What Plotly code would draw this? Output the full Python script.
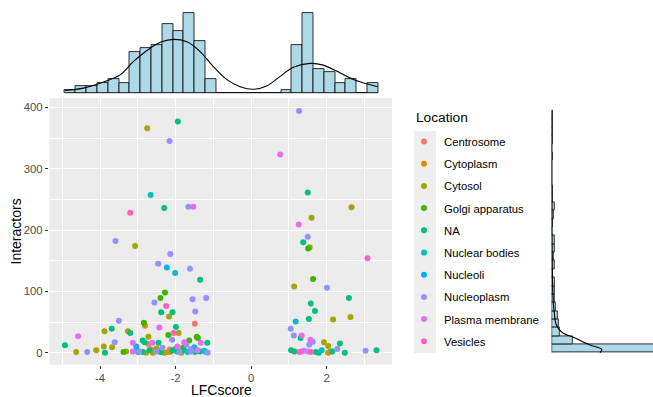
import numpy as np
import plotly.graph_objects as go

# ---------------- data ----------------
locations = ["Centrosome", "Cytoplasm", "Cytosol", "Golgi apparatus", "NA",
             "Nuclear bodies", "Nucleoli", "Nucleoplasm", "Plasma membrane", "Vesicles"]
loc_colors = ["#F8766D", "#D89000", "#A3A500", "#39B600", "#00BF7D",
              "#00BFC4", "#00B0F6", "#9590FF", "#E76BF3", "#FF62BC"]
code = {"C": "Centrosome", "Cp": "Cytoplasm", "Cs": "Cytosol", "G": "Golgi apparatus",
        "NA": "NA", "NB": "Nuclear bodies", "Nl": "Nucleoli", "Np": "Nucleoplasm",
        "PM": "Plasma membrane", "V": "Vesicles"}

lfc = [-2.75, -1.94, -2.16, -2.66, -2.30, -1.66, -1.53, -3.20, -3.59, -3.07,
       -2.14, -2.46, -2.23, -2.01, -1.62, -1.35, -2.28, -2.40, -2.56, -2.25,
       -2.38, -2.08, -2.17, -1.55, -1.19, -1.48, -1.49, -3.50, -3.69, -2.84,
       -2.81, -3.26, -3.20, -3.88, -3.61, -4.58, -4.93, -4.63, -4.34, -4.10,
       -3.90, -3.87, -3.68, -3.38, -3.31, -3.13, -2.87, -2.72, -2.61, -2.45,
       -2.43, -2.19, -2.05, -1.99, -1.92, -2.09, -3.04, -3.02, -2.99, -3.13,
       -2.82, -2.72, -1.77, -1.64, -1.72, -1.33, -1.16, -1.20, -1.44, -1.41,
       -2.96, -2.87, -2.78, -2.69, -2.60, -2.51, -2.40, -2.30, -2.21, -2.14,
       -2.08, -1.96, -1.90, -1.85, -1.77, -1.68, -1.59, -1.55, -1.48, -1.42,
       -1.35, -1.24, -1.15, -2.35, -2.00, -1.95, -2.50, -1.80, -1.60, -1.50,
       -2.15, -2.65,
       1.27, 0.77, 1.50, 2.66, 1.60, 1.26, 1.50, 1.38, 1.51, 1.55,
       3.08, 1.64, 1.14, 2.01, 2.59, 1.58, 1.69, 1.53, 2.17, 2.63,
       1.18, 1.05, 1.13, 1.31, 1.34, 1.57, 1.63, 1.54, 1.93, 2.04,
       2.35, 2.28, 1.06, 1.15, 1.34, 1.40, 1.51, 1.58, 1.71, 1.87,
       1.79, 2.04, 2.15, 2.10, 2.48, 3.03, 3.32, 1.28]
interactors = [366, 377, 345, 257, 236, 238, 238, 228, 182, 174,
               161, 145, 139, 130, 137, 119, 98, 89, 82, 76,
               66, 66, 59, 87, 89, 67, 47, 52, 39, 49,
               44, 35, 32, 35, 17, 27, 12, 1, 1, 4,
               10, 0, 9, 1, 2, 16, 20, 26, 16, 16,
               41, 29, 32, 42, 32, 21, 10, 4, 1, 2,
               17, 14, 17, 20, 13, 16, 16, 1, 26, 24,
               2, 1, 0, 4, 0, 2, 1, 0, 1, 1,
               4, 2, 1, 0, 4, 1, 2, 4, 1, 4,
               2, 3, 0, 8, 6, 10, 7, 8, 6, 9,
               5, 5,
               394, 323, 261, 237, 220, 209, 189, 180, 170, 172,
               154, 120, 108, 106, 89, 80, 68, 55, 54, 58,
               51, 39, 28, 24, 28, 21, 18, 13, 17, 11,
               15, 6, 4, 2, 2, 3, 2, 1, 1, 4,
               0, 0, 2, 2, 0, 3, 4, 1]
loc_codes = ["Cs", "NA", "Np", "NB", "NA", "Np", "PM", "V", "Np", "Cs",
             "Np", "Np", "Nl", "NB", "Np", "NA", "G", "G", "Np", "V",
             "NA", "NA", "Cs", "Np", "Np", "Np", "C", "Np", "NA", "G",
             "Cp", "Cs", "NA", "Cs", "Np", "PM", "NA", "Cs", "Np", "Cs",
             "Cs", "NA", "Cs", "G", "Cs", "PM", "NA", "Cs", "PM", "NA",
             "PM", "G", "V", "NA", "Cs", "Np", "Nl", "NB", "NA", "PM",
             "NA", "C", "PM", "G", "Np", "PM", "NA", "NB", "G", "G",
             "Np", "NA", "Cs", "NA", "Cs", "Np", "NA", "Cs", "C", "Cp",
             "NA", "NA", "Np", "Cs", "NA", "NB", "Np", "Nl", "NA", "PM",
             "NA", "NB", "Np", "Np", "NA", "PM", "Cs", "G", "Np", "NB",
             "C", "Cp",
             "Np", "PM", "NA", "Cs", "Cs", "PM", "Np", "NA", "G", "Cs",
             "V", "G", "Cs", "Np", "NA", "NA", "NA", "NA", "Cs", "Cs",
             "NB", "Np", "Np", "NA", "PM", "PM", "Np", "Np", "Cs", "Cs",
             "NA", "Np", "NA", "NA", "PM", "Np", "PM", "V", "NA", "NB",
             "NA", "Cp", "NA", "Cp", "NA", "Np", "NA", "V"]

# top marginal histogram of LFCscore (counts per bin) and density curve
lfc_bin_start = -4.93
lfc_bin_width = 0.286
lfc_counts = [1, 2, 2, 3, 4, 3, 12, 13, 14, 20, 18, 23, 15, 4,
              0, 0, 0, 0, 0, 0,
              1, 14, 23, 7, 6, 3, 4, 0, 3]
lfc_dens_x = [-4.93, -4.44, -4.00, -3.47, -3.12, -2.68, -2.37, -2.06, -1.70, -1.35,
              -1.00, -0.65, -0.29, 0.06, 0.41, 0.76, 1.12, 1.56, 1.91, 2.35, 2.80, 3.35]
lfc_dens_y = [0.8, 1.5, 2.9, 5.3, 9.1, 12.9, 14.8, 15.5, 14.8, 12.0,
              7.7, 4.0, 1.9, 1.15, 2.1, 4.8, 7.5, 8.6, 8.1, 5.9, 3.6, 1.9]

# right marginal histogram of Interactors
int_bin_start = 0.0
int_bin_width = 13.62
int_counts = [150, 25, 10, 8, 7, 5, 4, 3, 3, 1, 3, 2, 3, 3, 0,
              1, 2, 4, 1, 1, 0, 0, 0, 1, 0, 1, 1, 1, 1]
int_dens_y = [0, 5.5, 12.5, 25, 31.6, 39.7, 48, 64, 80, 102, 129, 184, 265, 394]
int_dens_x = [58, 60, 46, 26, 14, 8, 4.8, 3.2, 2.0, 1.2, 0.8, 0.4, 0.2, 0.1]

x_tickvals = [-4, -2, 0, 2]
x_ticktext = ["-4", "-2", "0", "2"]
y_tickvals = [0, 100, 200, 300, 400]
y_ticktext = ["0", "100", "200", "300", "400"]

# ---------------- figure ----------------
W, H = 653, 397
FONT = "Liberation Sans, Arial, sans-serif"

def px_x(p):
    return p / W

def px_y(p):
    return 1 - p / H

fig = go.Figure()

locs_full = [code[c] for c in loc_codes]
for name, col in zip(locations, loc_colors):
    xs = [x for x, l in zip(lfc, locs_full) if l == name]
    ys = [y for y, l in zip(interactors, locs_full) if l == name]
    fig.add_trace(go.Scatter(
        x=xs, y=ys, mode="markers", name=name, legendgroup=name,
        marker=dict(color=col, size=6, line=dict(width=0)),
        xaxis="x", yaxis="y"))

# top histogram
lfc_centers = lfc_bin_start + lfc_bin_width * (np.arange(len(lfc_counts)) + 0.5)
fig.add_trace(go.Bar(
    x=lfc_centers, y=lfc_counts, width=lfc_bin_width,
    marker=dict(color="#ADD8E6", line=dict(color="black", width=0.8)),
    xaxis="x2", yaxis="y2", showlegend=False))
lfc_end = lfc_bin_start + lfc_bin_width * len(lfc_counts)
fig.add_trace(go.Scatter(
    x=[lfc_bin_start, lfc_end], y=[0, 0], mode="lines",
    line=dict(color="black", width=0.8), xaxis="x2", yaxis="y2", showlegend=False))
fig.add_trace(go.Scatter(
    x=lfc_dens_x, y=lfc_dens_y, mode="lines", line=dict(color="black", width=1.1, shape="spline"),
    xaxis="x2", yaxis="y2", showlegend=False))

# right histogram
int_centers = int_bin_start + int_bin_width * (np.arange(len(int_counts)) + 0.5)
fig.add_trace(go.Bar(
    y=int_centers, x=int_counts, width=int_bin_width, orientation="h",
    marker=dict(color="#ADD8E6", line=dict(color="black", width=0.8)),
    xaxis="x3", yaxis="y3", showlegend=False))
int_end = int_bin_start + int_bin_width * len(int_counts)
fig.add_trace(go.Scatter(
    x=[0, 0], y=[int_bin_start, int_end], mode="lines",
    line=dict(color="black", width=0.8), xaxis="x3", yaxis="y3", showlegend=False))
fig.add_trace(go.Scatter(
    x=int_dens_x, y=int_dens_y, mode="lines", line=dict(color="black", width=1.1, shape="spline"),
    xaxis="x3", yaxis="y3", showlegend=False))

main_xdom = [px_x(49.4), px_x(392)]
main_ydom = [px_y(364.8), px_y(98.3)]
xrange_main = [-5.34, 3.73]
yrange_main = [-19.75, 414.75]

axis_common = dict(
    showline=False, zeroline=False, ticks="outside", ticklen=3.5, tickwidth=1,
    tickcolor="#333333", tickfont=dict(family=FONT, size=11.3, color="#4D4D4D"),
    showgrid=True, gridcolor="white", gridwidth=1.2,
)

fig.update_layout(
    width=W, height=H,
    margin=dict(l=0, r=0, t=0, b=0),
    paper_bgcolor="white", plot_bgcolor="white",
    bargap=0,
    font=dict(family=FONT, color="black"),
    xaxis=dict(domain=main_xdom, range=xrange_main, anchor="y",
               tickmode="array", tickvals=x_tickvals, ticktext=x_ticktext,
               ticklabelstandoff=-1,
               minor=dict(dtick=1, tick0=0, showgrid=True, gridcolor="white", gridwidth=0.6, ticks=""),
               **axis_common),
    yaxis=dict(domain=main_ydom, range=yrange_main, anchor="x",
               tickmode="array", tickvals=y_tickvals, ticktext=y_ticktext,
               minor=dict(dtick=50, tick0=0, showgrid=True, gridcolor="white", gridwidth=0.6, ticks=""),
               **axis_common),
    xaxis2=dict(domain=main_xdom, range=xrange_main, anchor="y2", visible=False),
    yaxis2=dict(domain=[px_y(93.3), px_y(5)], range=[0, 25.4], anchor="x2", visible=False),
    xaxis3=dict(domain=[px_x(551.7), 1], range=[0, 121.5], anchor="y3", visible=False),
    yaxis3=dict(domain=main_ydom, range=yrange_main, anchor="x3", visible=False),
    legend=dict(
        x=px_x(404), y=px_y(127), xanchor="left", yanchor="top",
        bgcolor="rgba(0,0,0,0)", tracegroupgap=3.2,
        font=dict(family=FONT, size=11.3, color="black"),
    ),
    shapes=[
        dict(type="rect", xref="x domain", yref="y domain", x0=0, x1=1, y0=0, y1=1,
             fillcolor="#EBEBEB", line=dict(width=0), layer="below"),
        dict(type="rect", xref="paper", yref="paper",
             x0=px_x(414), x1=px_x(436), y0=px_y(353), y1=px_y(131),
             fillcolor="#EEEEEE", line=dict(width=0), layer="below"),
    ],
    annotations=[
        dict(text="LFCscore", x=px_x(221), y=px_y(390), xref="paper", yref="paper",
             xanchor="center", yanchor="middle",
             showarrow=False, font=dict(family=FONT, size=14, color="black")),
        dict(text="Interactors", x=px_x(15), y=px_y(231.5), xref="paper", yref="paper",
             xanchor="center", yanchor="middle",
             showarrow=False, textangle=-90, font=dict(family=FONT, size=14, color="black")),
        dict(text="Location", x=px_x(414), y=px_y(118), xref="paper", yref="paper",
             xanchor="left", yanchor="middle",
             showarrow=False, font=dict(family=FONT, size=13.7, color="black")),
    ],
)

fig.write_html("out.html")
